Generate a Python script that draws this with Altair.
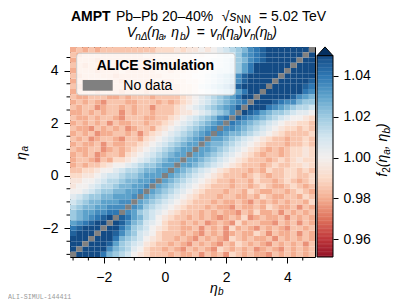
import altair as alt
import pandas as pd
import numpy as np

FONT = "Liberation Sans"

# ---- data -------------------------------------------------------------
ETA_EDGES = [round(-3.1 + 0.2 * k, 1) for k in range(41)]   # 40 bins of 0.2 in eta
LEVEL_CHARS = "0123456789abcdefghijk"   # '0' = 0.955 ... '9' = 1.000 ... 'k' = 1.055
LEVEL_BASE = 0.955
LEVEL_STEP = 0.005
# row i = eta_a bin (bottom -> top); LEFT = cells with eta_b < eta_a, RIGHT = eta_b > eta_a
LEFT = [
    "",
    "k",
    "kk",
    "kkk",
    "ijkk",
    "hijkk",
    "fghijk",
    "defghij",
    "deffgghh",
    "cdeeffggg",
    "bcdeefffgg",
    "abcddeefffg",
    "99abcddeeffg",
    "899abccdeeffg",
    "8899abccdeeffg",
    "77889abbcddefff",
    "6677899abccdeeff",
    "565667899abcddeff",
    "5665465" + "7789abcdeff",
    "565645665" + "789abcdeff",
    "6556645656" + "789abcdeff",
    "56556465566" + "789abcdeff",
    "656456654665" + "789abcdefg",
    "5656455665646" + "789abcdefg",
    "65546565645665" + "789abcdefg",
    "565656465566566" + "789abcdefg",
    "6556566546665566" + "789abcdegh",
    "5565656646566566" + "67889abcdeg",
    "6566456656566466" + "6789abcdefgi",
    "5656546665566656" + "567" + "89abcdef" + "gh",
    "6556665565666566" + "667" + "89abcdef" + "hjk",
    "5666566656665666" + "6677" + "89abcdef" + "hjk",
    "6566565666566566" + "6677" + "8abcdegi" + "jkkk",
    "5656676656666676" + "6778" + "89abcdegi" + "jkkk",
    "6566666566666667" + "77889" + "9abcdegi" + "kkkkk",
    "5666566676666677" + "677889" + "9ab" + "bcdfh" + "kkkkk",
    "6656666676666667" + "6778899" + "9ab" + "cdfhj" + "kkkkk",
    "5666566666666677" + "7788999" + "aabcdeghij" + "kkkk",
    "6566666666667677" + "77889899" + "abb" + "dfghi" + "kkkkkk",
    "5656566666666677" + "78788989" + "abc" + "de" + "ghi" + "kkkkkkk",
]
RIGHT = [
    "kkkkhedcb98766" + "6565564656476565546565656",
    "kkkjgedca976" + "65654656547656564565465656",
    "kkkifdcba876" + "6565465654657656546565646",
    "kkjhedcb9876" + "656546565476565564656565",
    "kkigedba976" + "665654656456557646556465",
    "kjhfdcb9876" + "65564656475654656546656",
    "jigedba976" + "65656456547566554656465",
    "ihfecb9876" + "6565654565745655646565",
    "gfdcba9876" + "665656554657556465656",
    "gfdcba9876" + "66565546556576556465",
    "fedcba9876" + "6656556546565656657",
    "fedcba9876" + "665665565765566576",
    "fedcba9876" + "66566576556656765",
    "fedcba9876" + "6656656765567656",
    "fedcba9876" + "656657665676567",
    "fedcba9876" + "66567656677667",
    "fedcba9876" + "6656576677676",
    "ffedcba9876" + "66567667787",
    "ffedcba9876" + "6656767877",
    "ffedcba98765" + "66567787",
    "ffedcba98765" + "6567787",
    "feedcba9876" + "6656676",
    "ffedcba9876" + "656676",
    "gfeedcba9876" + "6667",
    "ggfedcba9877676",
    "hgfedcba988776",
    "ihgfedcba9987",
    "jihfeddcbaa9",
    "kjjhgfedccb",
    "kkkihggedd",
    "kkkkkigfe",
    "kkkkkkhg",
    "kkkkkih",
    "kkkkki",
    "kkkkj",
    "kkkk",
    "kkk",
    "kk",
    "k",
    "",
]
X_MAJOR = [-2, 0, 2, 4]
X_MINOR = [-3, -2.5, -1.5, -1, -0.5, 0.5, 1, 1.5, 2.5, 3, 3.5, 4.5]
Y_MAJOR = [-2, 0, 2, 4]
Y_MINOR = [-3, -2.5, -1.5, -1, -0.5, 0.5, 1, 1.5, 2.5, 3, 3.5, 4.5]
CB_TICKS = [0.96, 0.98, 1.00, 1.02, 1.04]
CB_LO, CB_HI, CB_TOP = 0.9512, 1.05, 1.0542

cells, diag = [], []
for i in range(40):
    row = LEFT[i] + "-" + RIGHT[i]
    assert len(row) == 40, (i, len(row))
    for j, ch in enumerate(row):
        rec = dict(xb=ETA_EDGES[j], xe=ETA_EDGES[j + 1], ya=ETA_EDGES[i], ye=ETA_EDGES[i + 1])
        if ch == "-":
            diag.append(rec)
        else:
            rec["v"] = round(LEVEL_BASE + LEVEL_STEP * LEVEL_CHARS.index(ch), 4)
            cells.append(rec)
cells_df = pd.DataFrame(cells)
diag_df = pd.DataFrame(diag)

steps = np.linspace(CB_LO, CB_HI, 151)
cb_df = pd.DataFrame({"lo": steps[:-1], "hi": steps[1:] + 0.0002, "c": (steps[:-1] + steps[1:]) / 2})

# ---- chart ------------------------------------------------------------
XS = alt.Scale(domain=[-3.1, 4.9], nice=False, zero=False)
YS = alt.Scale(domain=[-3.1, 4.9], nice=False, zero=False)
XAX = alt.Axis(values=X_MAJOR, title=None, tickSize=6, labelPadding=7, grid=False, domain=False, format="d")
YAX = alt.Axis(values=Y_MAJOR, title=None, tickSize=6, labelPadding=6, grid=False, domain=False, format="d")
CS = alt.Scale(scheme="redblue", domain=[0.95, 1.05], clamp=True)
CBS = alt.Scale(domain=[CB_LO, CB_TOP], nice=False, zero=False)
CBAX = alt.Axis(orient="right", offset=18, values=CB_TICKS, format=".2f", title=None,
                tickSize=5, labelPadding=5, grid=False, domain=False)

ONE = alt.Data(values=[{"k": 0}])


def txt(s, x, y, size=14, style="normal", weight="normal", angle=0, font=FONT, color="black"):
    return alt.Chart(ONE).mark_text(
        text=s, fontSize=size, fontStyle=style, fontWeight=weight, angle=angle,
        font=font, color=color, align="left", baseline="alphabetic"
    ).encode(x=alt.value(x), y=alt.value(y))


heat = alt.Chart(cells_df).mark_rect().encode(
    x=alt.X("xb:Q", scale=XS, axis=XAX), x2="xe",
    y=alt.Y("ya:Q", scale=YS, axis=YAX), y2="ye",
    color=alt.Color("v:Q", scale=CS, legend=None),
)
diag_l = alt.Chart(diag_df).mark_rect(color="#808080").encode(
    x=alt.X("xb:Q", scale=XS, axis=XAX), x2="xe",
    y=alt.Y("ya:Q", scale=YS, axis=YAX), y2="ye",
)
xminor = alt.Chart(pd.DataFrame({"t": X_MINOR})).mark_rule(color="black", strokeWidth=1).encode(
    x=alt.X("t:Q", scale=XS, axis=XAX), y=alt.value(210), y2=alt.value(213.5)
)
yminor = alt.Chart(pd.DataFrame({"t": Y_MINOR})).mark_rule(color="black", strokeWidth=1).encode(
    y=alt.Y("t:Q", scale=YS, axis=YAX), x=alt.value(0), x2=alt.value(-3.5)
)
legbox = alt.Chart(ONE).mark_rect(fill="white", fillOpacity=0.8, stroke="#cccccc", strokeWidth=1,
                                  cornerRadius=3).encode(
    x=alt.value(6.7), x2=alt.value(165), y=alt.value(6.3), y2=alt.value(48))
patch = alt.Chart(ONE).mark_rect(color="#808080").encode(
    x=alt.value(12.7), x2=alt.value(42.7), y=alt.value(33), y2=alt.value(43.7))

texts = [
    # title line 1
    txt("AMPT", 1.0, -26.3, weight="bold"),
    txt("Pb–Pb 20–40%", 46, -26.3),
    txt("√", 151.7, -26.3),
    txt("s", 159.5, -26.3, style="italic"),
    txt("NN", 166.5, -24.0, size=10),
    txt("= 5.02 TeV", 189, -26.3),
    # title line 2
    txt("V", 56.7, -9.7, style="italic"),
    txt("nΔ", 65.3, -7.2, size=10, style="italic"),
    txt("(η", 77, -9.7, style="italic"),
    txt("a", 88.5, -7.2, size=10, style="italic"),
    txt(", η", 93.5, -9.7, style="italic"),
    txt("b", 110, -7.2, size=10, style="italic"),
    txt(")", 115.5, -9.7, style="italic"),
    txt("=", 126.7, -9.7),
    txt("v", 140, -9.7, style="italic"),
    txt("n", 146.7, -7.2, size=10, style="italic"),
    txt("(η", 151.7, -9.7, style="italic"),
    txt("a", 163.3, -7.2, size=10, style="italic"),
    txt(")v", 168.3, -9.7, style="italic"),
    txt("n", 180, -7.2, size=10, style="italic"),
    txt("(η", 185, -9.7, style="italic"),
    txt("b", 196.7, -7.2, size=10, style="italic"),
    txt(")", 202.3, -9.7, style="italic"),
    # legend
    txt("ALICE Simulation", 26.7, 23, weight="bold"),
    txt("No data", 53.3, 42.5),
    # axis titles
    txt("η", 140, 245.5, style="italic"),
    txt("b", 148, 248, size=10, style="italic"),
    txt("η", -44.5, 113, style="italic", angle=270),
    txt("a", -42, 104.5, size=10, style="italic", angle=270),
    # colour bar title
    txt("f", 317, 129.7, style="italic", angle=270),
    txt("2", 319.5, 125.8, size=10, angle=270),
    txt("(η", 317, 120.2, style="italic", angle=270),
    txt("a", 319.5, 107.8, size=10, style="italic", angle=270),
    txt(", η", 317, 102.2, style="italic", angle=270),
    txt("b", 319.5, 86.6, size=10, style="italic", angle=270),
    txt(")", 317, 81, style="italic", angle=270),
    # footer
    txt("ALI-SIMUL-144411", -62, 252, size=6.6, font="Liberation Mono", color="#999999"),
]

main = alt.layer(heat, diag_l, xminor, yminor, legbox, patch, *texts)

cbar = alt.Chart(cb_df).mark_rect().encode(
    x=alt.value(247), x2=alt.value(263),
    y=alt.Y("lo:Q", scale=CBS, axis=CBAX), y2="hi",
    color=alt.Color("c:Q", scale=CS, legend=None),
)
cframe = alt.Chart(pd.DataFrame({"lo": [CB_LO], "hi": [CB_HI]})).mark_rect(
    fillOpacity=0, stroke="black", strokeWidth=1).encode(
    x=alt.value(247), x2=alt.value(263),
    y=alt.Y("lo:Q", scale=CBS, axis=CBAX), y2="hi",
)
tri = alt.Chart(ONE).mark_point(shape="M-1,0.55L0,-0.55L1,0.55Z", size=256, filled=True,
                                fill="#053061", stroke="black", strokeWidth=1, opacity=1).encode(
    x=alt.value(255), y=alt.value(4.3))
cb = alt.layer(cbar, cframe, tri)

chart = alt.layer(main, cb).resolve_scale(y="independent").properties(
    width=245, height=210,
    autosize=alt.AutoSizeParams(type="none"),
    padding={"left": 62, "top": 39, "right": 92, "bottom": 43},
).configure_view(stroke="black", strokeWidth=1).configure_axis(
    labelFont=FONT, labelFontSize=14, labelColor="black", tickColor="black", tickWidth=1
)

chart.save("out.html", embed_options={"renderer": "svg", "actions": False})
